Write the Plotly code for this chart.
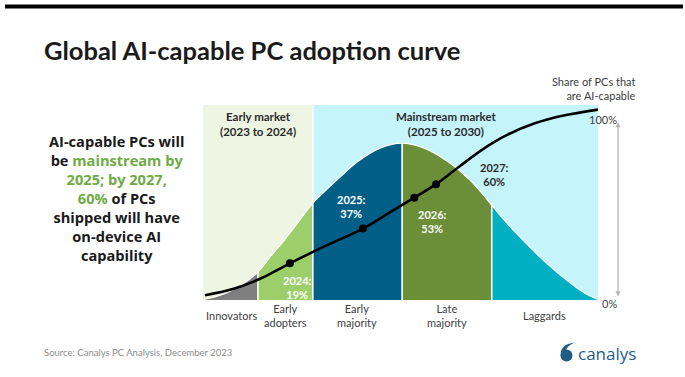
import plotly.graph_objects as go

W, H = 685, 377

# Adoption categories along the diffusion curve
segments = ["Innovators", "Early<br>adopters", "Early<br>majority", "Late<br>majority", "Laggards"]
segment_edges = [0.5, 13.9, 27.8, 50.4, 73.1, 100]
segment_colors = ["#7f7f7f", "#9ccf6a", "#005f87", "#6a8f38", "#00afc1"]

# Market phases drawn as background bands
markets = ["Early market<br>(2023 to 2024)", "Mainstream market<br>(2025 to 2030)"]
market_edges = [0, 27.8, 100]
market_colors = ["#eef6e3", "#c6f4fb"]

# Bell-shaped adoption distribution (relative height)
bell_pos = [0.5, 3, 5.6, 8.1, 10.6, 13.9, 17, 20.8, 24.3, 27.8, 30.9, 34.7, 39, 44.8,
            50.4, 56, 61.8, 67.6, 70.1, 73.1, 76.5, 78.5, 82, 85.3, 88.4, 91.1, 95.4, 98, 100]
bell_height = [0.5, 1.6, 3.4, 6, 9.1, 14.5, 22.3, 31.6, 40.9, 50.2, 56.5, 63.7, 71.5, 78.7,
               81.3, 78.7, 72, 62.2, 56.5, 49.2, 40.9, 36.3, 29, 22.3, 16.6, 11.9, 5.2, 2.1, 0.3]

# Forecast milestones: share of PCs shipped that are AI-capable
years = [2024, 2025, 2026, 2027]
year_pos = [22, 40.5, 53.5, 59]
year_share = [19, 37, 53, 60]

# Rest of the cumulative S-curve between the milestones
curve_base_pos = [0.5, 8, 15, 31, 47, 65, 71, 77, 84, 91, 100]
curve_base_share = [2.5, 6, 11.5, 28, 45, 69.3, 78.3, 85.5, 91.5, 95.4, 98.6]

curve = sorted(zip(curve_base_pos + year_pos, curve_base_share + year_share))
curve_pos = [p for p, _ in curve]
curve_share = [s for _, s in curve]

# Chart frame in pixels
X0, X1, Y0, Y1 = 203, 598, 300, 105


def px(x):
    return x / W


def py(y):
    return 1 - y / H


FONT = "Lato"
DARK = "#1a1a1a"
GREY_TXT = "#404040"
GREEN = "#6fab45"
BRAND = "#1f5d86"

fig = go.Figure()

# Adoption segments under the bell
for i, name in enumerate(segments):
    lo, hi = segment_edges[i], segment_edges[i + 1]
    xs = [x for x in bell_pos if lo <= x <= hi]
    ys = [h for x, h in zip(bell_pos, bell_height) if lo <= x <= hi]
    fig.add_trace(go.Scatter(
        x=xs, y=ys, mode="lines", fill="tozeroy", fillcolor=segment_colors[i],
        line=dict(color=segment_colors[i], width=0.5, shape="spline"),
        hoverinfo="skip", showlegend=False))

# White outline along the top of the bell
fig.add_trace(go.Scatter(
    x=bell_pos, y=bell_height, mode="lines",
    line=dict(color="white", width=1.3, shape="spline"),
    hoverinfo="skip", showlegend=False))

# White separators between segments
for e in segment_edges[1:-1]:
    h = bell_height[bell_pos.index(e)]
    fig.add_trace(go.Scatter(
        x=[e, e], y=[0, h], mode="lines",
        line=dict(color="white", width=1.6),
        hoverinfo="skip", showlegend=False))

# Cumulative adoption curve
fig.add_trace(go.Scatter(
    x=curve_pos, y=curve_share, mode="lines",
    line=dict(color="black", width=2.6, shape="spline"),
    hoverinfo="skip", showlegend=False))

fig.add_trace(go.Scatter(
    x=year_pos, y=year_share, mode="markers",
    marker=dict(color="black", size=8),
    hoverinfo="skip", showlegend=False))

# Milestone labels
label_style = {
    2024: dict(xshift=8, yshift=-24, color="white"),
    2025: dict(xshift=-11, yshift=22, color="white"),
    2026: dict(xshift=18, yshift=-24, color="white"),
    2027: dict(xshift=58, yshift=10, color="#2b2b2b"),
}
for yr, pos, share in zip(years, year_pos, year_share):
    st = label_style[yr]
    fig.add_annotation(
        x=pos, y=share, xref="x", yref="y", text=f"<b>{yr}:<br>{share}%</b>",
        showarrow=False, xshift=st["xshift"], yshift=st["yshift"],
        font=dict(family=FONT, size=11, color=st["color"]), align="center")

shapes = []
# Background bands for the market phases
for i in range(len(markets)):
    shapes.append(dict(
        type="rect", xref="x", yref="y", x0=market_edges[i], x1=market_edges[i + 1],
        y0=0, y1=101, fillcolor=market_colors[i], line=dict(width=0), layer="below"))
shapes.append(dict(type="line", xref="x", yref="y", x0=market_edges[1], x1=market_edges[1],
                   y0=0, y1=101, line=dict(color="white", width=1.5), layer="below"))

# Top rule
shapes.append(dict(type="rect", xref="paper", yref="paper", x0=px(5), x1=px(683),
                   y0=py(8.5), y1=py(4.5), fillcolor="black", line=dict(width=0)))

# Logo mark
shapes.append(dict(type="circle", xref="paper", yref="paper",
                   x0=px(560.5), x1=px(572.5), y0=py(361.5), y1=py(349.5),
                   fillcolor=BRAND, line=dict(width=0)))
logo_path = (f"M {px(560.8)},{py(356)} Q {px(559.5)},{py(344.5)} {px(574.5)},{py(342.5)} "
             f"Q {px(566)},{py(346.5)} {px(565.5)},{py(352)} Z")
shapes.append(dict(type="path", xref="paper", yref="paper", path=logo_path,
                   fillcolor=BRAND, line=dict(width=0)))

# Market phase titles
market_label_pos = [13.9, 61.6]
for name, xpos in zip(markets, market_label_pos):
    fig.add_annotation(x=xpos, y=91, xref="x", yref="y", text=f"<b>{name}</b>",
                       showarrow=False, font=dict(family=FONT, size=11.5, color="#2b2b2b"),
                       align="center")

# Category names under the chart
for i, name in enumerate(segments):
    mid = (segment_edges[i] + segment_edges[i + 1]) / 2
    fig.add_annotation(x=mid, y=py(315.5), xref="x", yref="paper", text=name,
                       showarrow=False, font=dict(family=FONT, size=11, color=GREY_TXT),
                       align="center", yanchor="middle")

# Title
fig.add_annotation(x=px(42), y=py(50), xref="paper", yref="paper",
                   text="<b>Global AI-capable PC adoption curve</b>", showarrow=False,
                   xanchor="left", yanchor="middle",
                   font=dict(family=FONT, size=25.5, color=DARK))


# Key message
def g(t):
    return f"<span style='color:{GREEN}'>{t}</span>"


msg_lines = ["AI-capable PCs will", "be " + g("mainstream by"), g("2025; by 2027,"),
             g("60%") + " of PCs", "shipped will have", "on-device AI", "capability"]
fig.add_annotation(x=px(116), y=py(198), xref="paper", yref="paper",
                   text="<b>" + "<br>".join(msg_lines) + "</b>", showarrow=False,
                   xanchor="center", yanchor="middle", align="center",
                   font=dict(family="Open Sans", size=14.6, color=DARK))

# Right-hand share scale
fig.add_annotation(x=px(638), y=py(88), xref="paper", yref="paper",
                   text="Share of PCs that<br>are AI-capable", showarrow=False,
                   xanchor="right", yanchor="middle", align="right",
                   font=dict(family=FONT, size=11, color=GREY_TXT))
fig.add_annotation(x=px(619), y=py(111), xref="paper", yref="paper", text="100%",
                   showarrow=False, font=dict(family=FONT, size=11, color=GREY_TXT))
fig.add_annotation(x=px(619), y=py(312), xref="paper", yref="paper", text="0%",
                   showarrow=False, font=dict(family=FONT, size=11, color=GREY_TXT))
fig.add_annotation(x=px(618), y=py(122), xref="paper", yref="paper", ax=0, ay=176,
                   axref="pixel", ayref="pixel", text="", showarrow=True,
                   arrowhead=2, startarrowhead=2, arrowside="end+start",
                   arrowsize=0.8, arrowwidth=1.3, arrowcolor="#b8b8b8")

# Footer
fig.add_annotation(x=px(42), y=py(352), xref="paper", yref="paper",
                   text="Source: Canalys PC Analysis, December 2023", showarrow=False,
                   xanchor="left", yanchor="middle",
                   font=dict(family=FONT, size=9.5, color="#8c8c8c"))
fig.add_annotation(x=px(576), y=py(353), xref="paper", yref="paper", text="canalys",
                   showarrow=False, xanchor="left", yanchor="middle",
                   font=dict(family="Open Sans", size=17, color=BRAND))

fig.update_layout(
    width=W, height=H, autosize=False,
    margin=dict(l=0, r=0, t=0, b=0),
    paper_bgcolor="white", plot_bgcolor="white",
    shapes=shapes,
    xaxis=dict(domain=[px(X0), px(X1)], range=[0, 100], visible=False, fixedrange=True),
    yaxis=dict(domain=[py(Y0), py(Y1)], range=[0, 101], visible=False, fixedrange=True),
    font=dict(family=FONT),
)

fig.write_html("out.html")
